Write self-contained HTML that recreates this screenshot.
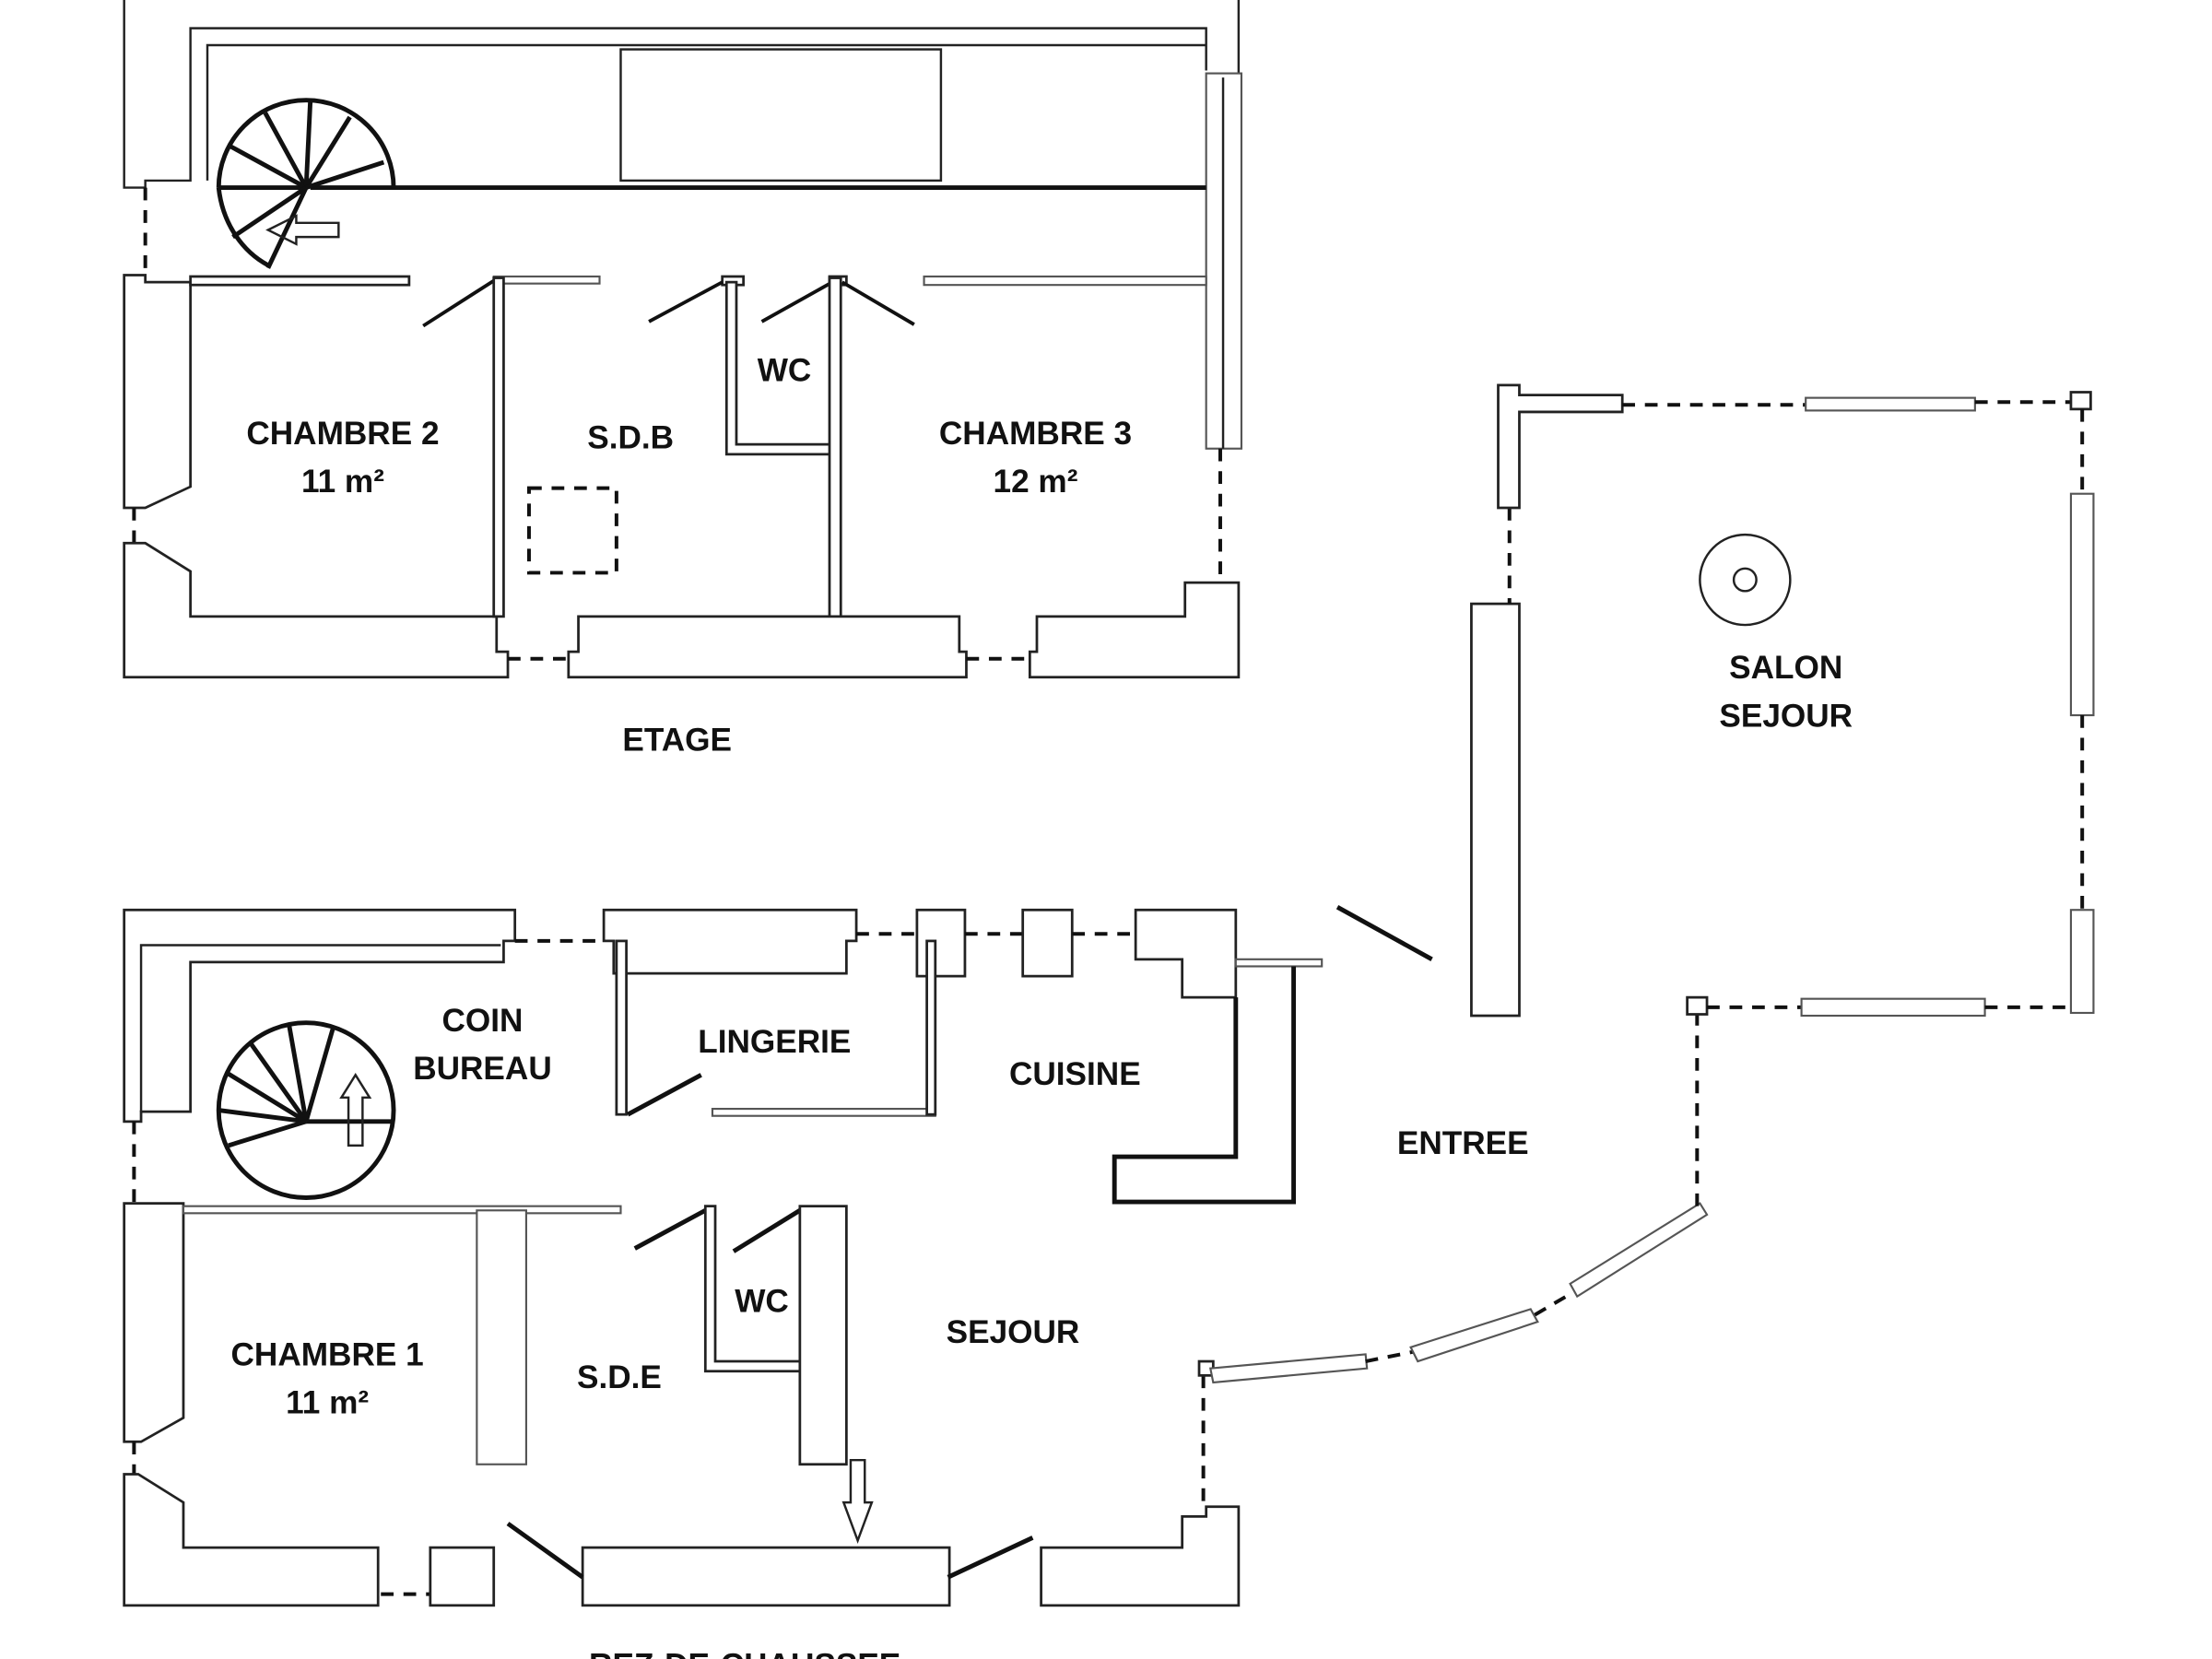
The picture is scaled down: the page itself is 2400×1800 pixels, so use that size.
<!DOCTYPE html>
<html><head><meta charset="utf-8"><style>
html,body{margin:0;padding:0;background:#fff;}
svg{display:block;}
text{font-family:"Liberation Sans",sans-serif;font-weight:bold;font-size:23px;fill:#111;text-anchor:middle;}
.w{fill:#fff;stroke:#222;stroke-width:1.8;}
.t{fill:none;stroke:#222;stroke-width:1.6;}
.h{fill:none;stroke:#111;stroke-width:3.2;}
.d{fill:none;stroke:#111;stroke-width:2.6;stroke-dasharray:9 7;}
.g{fill:#fff;stroke:#555;stroke-width:1.4;}
</style></head><body>
<svg width="2400" height="1800" viewBox="0 0 1568 1176" xmlns="http://www.w3.org/2000/svg">
<!-- ========== ETAGE ========== -->
<polyline class="t" points="88,0 88,133 103,133 103,128 135,128 135,20 855,20 855,50"/>
<polyline class="t" points="147,128 147,32 855,32"/>
<polyline class="t" points="855,55 878,55 878,0"/>
<rect class="g" x="855" y="52" width="25" height="266"/>
<line class="t" x1="867" y1="55" x2="867" y2="318"/>
<rect class="t" x="440" y="35" width="227" height="93"/>
<line class="h" x1="220" y1="133" x2="855" y2="133"/>
<path class="h" d="M155,133 A62,62 0 1 1 279,133 M155,133 A62,70 0 0 0 190,188"/>
<g class="h">
<line x1="217" y1="133" x2="155" y2="133"/><line x1="217" y1="133" x2="162" y2="103"/>
<line x1="217" y1="133" x2="188" y2="80"/><line x1="217" y1="133" x2="220" y2="71"/>
<line x1="217" y1="133" x2="248" y2="83"/><line x1="217" y1="133" x2="272" y2="115"/>
<line x1="217" y1="133" x2="165" y2="168"/><line x1="217" y1="133" x2="190" y2="190"/>
</g>
<polygon class="t" points="190,163 210,153 210,158 240,158 240,168 210,168 210,173"/>
<line class="d" x1="103" y1="133" x2="103" y2="195"/>
<polygon class="w" points="88,195 103,195 103,200 135,200 135,345 103,360 88,360"/>
<line class="d" x1="95" y1="360" x2="95" y2="385"/>
<polygon class="w" points="88,385 103,385 135,405 135,437 352,437 352,462 360,462 360,480 88,480"/>
<rect class="w" x="135" y="196" width="155" height="6"/>
<rect class="g" x="350" y="196" width="75" height="5"/>
<rect class="w" x="512" y="196" width="15" height="6"/>
<rect class="w" x="588" y="196" width="12" height="6"/>
<rect class="g" x="655" y="196" width="200" height="6"/>
<g class="h" style="stroke-width:2.5">
<line x1="300" y1="231" x2="350" y2="199"/><line x1="460" y1="228" x2="512" y2="200"/>
<line x1="540" y1="228" x2="590" y2="200"/><line x1="597" y1="200" x2="648" y2="230"/>
</g>
<rect class="w" x="350" y="197" width="7" height="240"/>
<polygon class="w" points="515,200 522,200 522,315 590,315 590,322 515,322"/>
<rect class="w" x="588" y="197" width="8" height="240"/>
<rect class="d" x="375" y="346" width="62" height="60"/>
<polygon class="w" points="403,480 403,462 410,462 410,437 680,437 680,462 685,462 685,480"/>
<line class="d" x1="360" y1="467" x2="403" y2="467"/>
<line class="d" x1="685" y1="467" x2="730" y2="467"/>
<polygon class="w" points="730,480 730,462 735,462 735,437 840,437 840,413 878,413 878,480"/>
<line class="d" x1="865" y1="318" x2="865" y2="413"/>
<text x="243" y="315">CHAMBRE 2</text><text x="243" y="349">11 m²</text>
<text x="447" y="318">S.D.B</text>
<text x="556" y="270">WC</text>
<text x="734" y="315">CHAMBRE 3</text><text x="734" y="349">12 m²</text>
<text x="480" y="532">ETAGE</text>
<!-- ========== REZ ========== -->
<polygon class="w" points="88,645 365,645 365,667 357,667 357,682 135,682 135,788 100,788 100,795 88,795"/>
<polyline class="t" points="100,788 100,670 355,670"/>
<line class="d" x1="365" y1="667" x2="428" y2="667"/>
<polygon class="w" points="428,645 607,645 607,667 600,667 600,690 435,690 435,667 428,667"/>
<line class="d" x1="607" y1="662" x2="650" y2="662"/>
<polygon class="w" points="650,645 684,645 684,692 650,692"/>
<line class="d" x1="684" y1="662" x2="725" y2="662"/>
<polygon class="w" points="725,645 760,645 760,692 725,692"/>
<line class="d" x1="760" y1="662" x2="805" y2="662"/>
<polygon class="w" points="805,645 876,645 876,707 838,707 838,680 805,680"/>
<rect class="g" x="876" y="680" width="61" height="5"/>
<polyline class="h" points="876,707 876,820 790,820 790,852 917,852 917,685"/>
<rect class="w" x="437" y="667" width="7" height="123"/>
<rect class="g" x="505" y="786" width="158" height="5"/>
<rect class="w" x="657" y="667" width="6" height="123"/>
<line class="h" x1="445" y1="790" x2="497" y2="762"/>
<circle class="h" cx="217" cy="787" r="62"/>
<g class="h">
<line x1="217" y1="795" x2="155" y2="787"/><line x1="217" y1="795" x2="160" y2="760"/>
<line x1="217" y1="795" x2="178" y2="740"/><line x1="217" y1="795" x2="205" y2="727"/>
<line x1="217" y1="795" x2="236" y2="729"/><line x1="217" y1="795" x2="162" y2="812"/>
<line x1="217" y1="795" x2="279" y2="795"/>
</g>
<polygon class="t" points="252,762 262,778 257,778 257,812 247,812 247,778 242,778"/>
<line class="d" x1="95" y1="795" x2="95" y2="853"/>
<polygon class="w" points="88,853 130,853 130,1005 100,1022 88,1022"/>
<rect class="g" x="130" y="855" width="310" height="5"/>
<rect class="g" x="338" y="858" width="35" height="180"/>
<line class="d" x1="95" y1="1022" x2="95" y2="1045"/>
<polygon class="w" points="88,1045 98,1045 130,1065 130,1097 268,1097 268,1138 88,1138"/>
<line class="d" x1="270" y1="1130" x2="305" y2="1130"/>
<rect class="w" x="305" y="1097" width="45" height="41"/>
<rect class="w" x="413" y="1097" width="260" height="41"/>
<polygon class="w" points="738,1097 838,1097 838,1075 855,1075 855,1068 878,1068 878,1138 738,1138"/>
<g class="h">
<line x1="360" y1="1080" x2="413" y2="1118"/><line x1="672" y1="1118" x2="732" y2="1090"/>
<line x1="450" y1="885" x2="500" y2="858"/><line x1="520" y1="887" x2="567" y2="858"/>
</g>
<polygon class="w" points="500,855 507,855 507,965 570,965 570,972 500,972"/>
<rect class="w" x="567" y="855" width="33" height="183"/>
<polygon class="t" points="603,1035 613,1035 613,1065 618,1065 608,1092 598,1065 603,1065"/>
<line class="d" x1="853" y1="975" x2="853" y2="1068"/>
<rect class="w" x="850" y="965" width="10" height="10"/>
<polygon class="g" points="858,970 968,960 969,970 860,980"/>
<line class="d" x1="968" y1="965" x2="1003" y2="958"/>
<polygon class="g" points="1000,955 1085,928 1090,937 1005,965"/>
<line class="d" x1="1088" y1="932" x2="1117" y2="915"/>
<polygon class="g" points="1113,910 1205,853 1210,861 1118,919"/>
<line class="d" x1="1203" y1="718" x2="1203" y2="855"/>
<rect class="w" x="1196" y="707" width="14" height="12"/>
<line class="h" x1="948" y1="643" x2="1015" y2="680"/>
<rect class="w" x="1043" y="428" width="34" height="292"/>
<line class="d" x1="1070" y1="360" x2="1070" y2="428"/>
<polygon class="w" points="1062,273 1077,273 1077,280 1150,280 1150,292 1077,292 1077,360 1062,360"/>
<line class="d" x1="1150" y1="287" x2="1280" y2="287"/>
<rect class="g" x="1280" y="282" width="120" height="9"/>
<line class="d" x1="1400" y1="285" x2="1470" y2="285"/>
<rect class="w" x="1468" y="278" width="14" height="12"/>
<line class="d" x1="1476" y1="290" x2="1476" y2="350"/>
<rect class="g" x="1468" y="350" width="16" height="157"/>
<line class="d" x1="1476" y1="507" x2="1476" y2="645"/>
<rect class="g" x="1468" y="645" width="16" height="73"/>
<line class="d" x1="1210" y1="714" x2="1277" y2="714"/>
<rect class="g" x="1277" y="708" width="130" height="12"/>
<line class="d" x1="1407" y1="714" x2="1470" y2="714"/>
<circle class="t" cx="1237" cy="411" r="32"/>
<circle class="t" cx="1237" cy="411" r="8"/>
<text x="342" y="731">COIN</text><text x="342" y="765">BUREAU</text>
<text x="549" y="746">LINGERIE</text>
<text x="762" y="769">CUISINE</text>
<text x="1037" y="818">ENTREE</text>
<text x="1266" y="481">SALON</text><text x="1266" y="515">SEJOUR</text>
<text x="232" y="968">CHAMBRE 1</text><text x="232" y="1002">11 m²</text>
<text x="439" y="984">S.D.E</text>
<text x="540" y="930">WC</text>
<text x="718" y="952">SEJOUR</text>
<text x="528" y="1188">REZ-DE-CHAUSSEE</text>
</svg>
</body></html>
